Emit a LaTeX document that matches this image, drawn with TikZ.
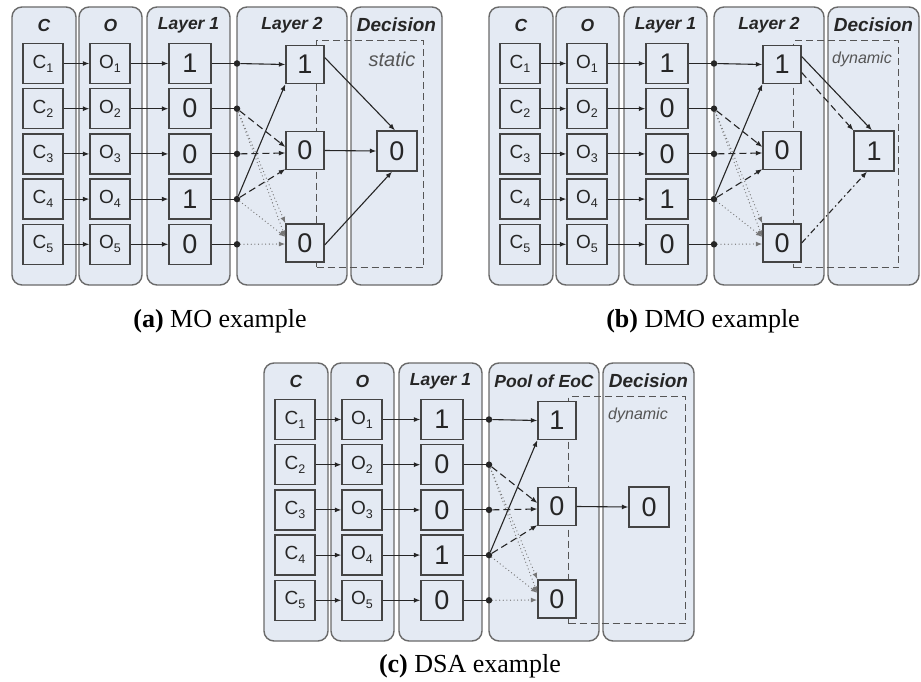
\documentclass[tikz,border=0pt]{standalone}
\usepackage{fontspec}
\setmainfont{Liberation Serif}
\setsansfont{Liberation Sans}
\usetikzlibrary{arrows.meta}

\definecolor{panelfill}{HTML}{E4EAF3}
\definecolor{panelline}{HTML}{6A6A6A}
\definecolor{boxline}{HTML}{444444}
\definecolor{ink}{HTML}{262626}
\definecolor{dotink}{HTML}{767676}
\definecolor{labgray}{HTML}{555555}

\newcommand\sub[1]{\raisebox{-4pt}{\fontsize{12.5}{12.5}\selectfont #1}}

\tikzset{
  col/.style={draw=panelline, line width=1.4pt, fill=panelfill, rounded corners=10pt, inner sep=0pt},
  hdr/.style={font=\sffamily\bfseries\itshape\fontsize{17.5}{19}\selectfont, text=ink, inner sep=0pt},
  cbox/.style={draw=boxline, line width=1.3pt, fill=panelfill, minimum width=40pt, minimum height=40pt, inner sep=0pt, font=\sffamily\fontsize{19}{21}\selectfont, text=ink},
  nbox/.style={cbox, minimum width=42pt, font=\sffamily\fontsize{27}{29}\selectfont},
  vbox/.style={cbox, minimum width=38pt, minimum height=38pt, font=\sffamily\fontsize{27}{29}\selectfont},
  dbox/.style={cbox, font=\sffamily\fontsize{27}{29}\selectfont},
  junction/.style={circle, fill=ink, inner sep=0pt, minimum size=6.5pt},
  dashrect/.style={draw=labgray, line width=1.3pt, dash pattern=on 7pt off 4pt, inner sep=0pt},
  mode/.style={font=\sffamily\itshape, text=labgray, inner sep=0pt},
  ln/.style={draw=ink, line width=1.1pt},
  arr/.style={ln, -{Latex[length=6.5pt,width=5pt]}},
  darr/.style={arr, dash pattern=on 7pt off 4pt},
  ddarr/.style={arr, dash pattern=on 6pt off 3pt on 1.5pt off 3pt},
  parr/.style={draw=dotink, line width=1.3pt, line cap=round, dash pattern=on 0pt off 3.6pt, -{Latex[length=6.5pt,width=5pt]}},
  captext/.style={font=\fontsize{26}{28}\selectfont, text=black, inner sep=0pt},
}

% #1 = Layer-2 header, #2 = decision value, #3 = mode text, #4 = mode font size, #5 = mode x, #6 = dashed box width
\newcommand\drawpanel[6]{%
  \node[col, minimum width=64pt, minimum height=278pt] (colC) at (44,146) {};
  \node[col, minimum width=63pt, minimum height=278pt] (colO) at (110.5,146) {};
  \node[col, minimum width=83pt, minimum height=278pt] (colL) at (188.5,146) {};
  \node[col, minimum width=110pt, minimum height=278pt] (colM) at (292,146) {};
  \node[col, minimum width=91pt, minimum height=278pt] (colD) at (396.5,146) {};
  \node[hdr] (hC) at (44,25) {C};
  \node[hdr] (hO) at (110.5,25) {O};
  \node[hdr] (hL) at (188.5,25) {Layer 1};
  \node[hdr] (hM) at (292,25) {#1};
  \node[hdr, font=\sffamily\bfseries\itshape\fontsize{19}{21}\selectfont] (hD) at (396.5,25) {Decision};
  \node[dashrect, minimum width=#6 pt, minimum height=227pt, anchor=north west] (region) at (316,40) {};
  \node[mode, font=\sffamily\itshape\fontsize{#4}{#4}\selectfont] (modetext) at (#5,59) {#3};
  \foreach \i/\y/\v in {1/63.5/1,2/108.7/0,3/153.9/0,4/199.1/1,5/244.3/0}{
    \node[cbox] (c\i) at (43,\y) {C\sub{\i}};
    \node[cbox] (o\i) at (110,\y) {O\sub{\i}};
    \node[nbox] (l\i) at (190,\y) {\v};
    \node[junction] (d\i) at (237,\y) {};
    \draw[arr] (c\i) -- (o\i);
    \draw[arr] (o\i) -- (l\i);
    \draw[ln] (l\i) -- (d\i);
  }
  \node[vbox] (t) at (305,64.5) {1};
  \node[vbox] (m) at (305,150.5) {0};
  \node[vbox] (b) at (305,243) {0};
  \node[dbox] (dec) at (397,151) {#2};
  \draw[arr] (d1) -- (t.west);
  \draw[arr] (d4) -- (t.south west);
  \draw[darr] (d2) -- ([yshift=3.5pt]m.west);
  \draw[darr] (d3) -- ([yshift=-2.5pt]m.west);
  \draw[darr] (d4) -- ([yshift=1pt]m.south west);
  \draw[parr] (d2) -- (b.north west);
  \draw[parr] (d2) -- ([yshift=6pt]b.west);
  \draw[parr] (d4) -- ([yshift=6pt]b.west);
  \draw[parr] (d5) -- ([yshift=-1pt]b.west);
}

\begin{document}
\begin{tikzpicture}[x=1pt, y=-1pt]
  \useasboundingbox (0,0) rectangle (921,682);
  \fill[white] (0,0) rectangle (921,682);

  % (a) MO example
  \begin{scope}[name prefix=a-]
    \drawpanel{Layer 2}{0}{static}{20}{392}{107}
    \draw[arr] ([yshift=7pt]t.east) -- ([xshift=-2pt]dec.north);
    \draw[arr] (m.east) -- (dec.west);
    \draw[arr] ([yshift=-2pt]b.east) -- ([xshift=-5pt]dec.south);
  \end{scope}

  % (b) DMO example
  \begin{scope}[shift={(477,0)}, name prefix=b-]
    \drawpanel{Layer 2}{1}{dynamic}{16}{385}{105}
    \draw[arr] ([yshift=8pt]t.east) -- ([xshift=-2pt]dec.north);
    \draw[darr] ([yshift=-8pt]t.east) -- (dec.north west);
    \draw[ddarr] (b.east) -- ([xshift=-7pt]dec.south);
  \end{scope}

  % (c) DSA example
  \begin{scope}[shift={(252,356)}, name prefix=c-]
    \drawpanel{Pool of EoC}{0}{dynamic}{16}{386}{117}
    \draw[arr] (m.east) -- (dec.west);
  \end{scope}

  \node[captext] (capa) at (220,321) {\textbf{(a)} MO example};
  \node[captext] (capb) at (703,321) {\textbf{(b)} DMO example};
  \node[captext] (capc) at (470,666) {\textbf{(c)} DSA example};
\end{tikzpicture}
\end{document}
